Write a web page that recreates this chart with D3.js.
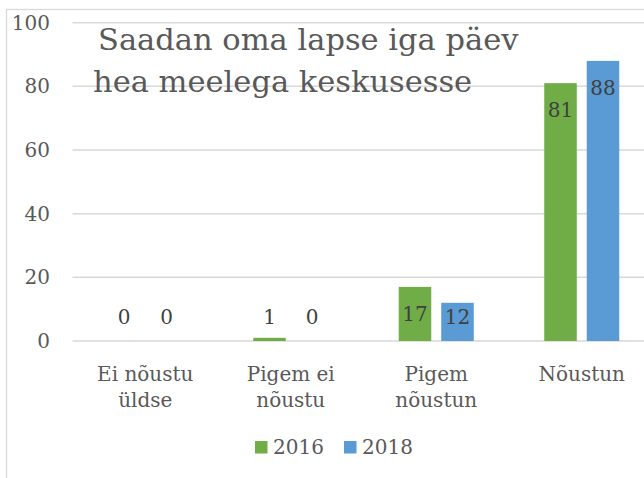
<!DOCTYPE html>
<meta charset="utf-8">
<script src="https://d3js.org/d3.v7.min.js"></script>
<style>
    body { margin: 0; background: #fff; }
    svg { display: block; }
</style>
<div id="chart"></div>
<script>
    // Data
    var categories = [["Ei nõustu", "üldse"], ["Pigem ei", "nõustu"], ["Pigem", "nõustun"], ["Nõustun"]];
    var seriesNames = ["2016", "2018"];
    var values2016 = [0, 1, 17, 81];
    var values2018 = [0, 0, 12, 88];
    var yTicks = [0, 20, 40, 60, 80, 100];
    var titleLines = ["Saadan oma lapse iga päev", "hea meelega keskusesse"];

    var colors = { "2016": "#70AD47", "2018": "#5B9BD5" };
    var font = "'DejaVu Serif', serif";

    var W = 644, H = 478;
    var svg = d3.select("#chart").append("svg")
        .attr("width", W)
        .attr("height", H);

    // chart frame (runs off the right edge like the screenshot)
    svg.append("rect")
        .attr("x", 6.5).attr("y", 9.5)
        .attr("width", 800).attr("height", 600)
        .attr("fill", "none")
        .attr("stroke", "#D9D9D9")
        .attr("stroke-width", 1.3);

    var catKeys = categories.map(function (c) { return c.join(" "); });

    var x0 = d3.scaleBand()
        .domain(catKeys)
        .range([72.5, 654.5])
        .paddingInner(0)
        .paddingOuter(0);

    var x1 = d3.scaleBand()
        .domain(seriesNames)
        .range([35.25, 110.25])
        .paddingInner(0.235)
        .paddingOuter(0);

    var y = d3.scaleLinear()
        .domain([0, 100])
        .range([341, 22.7]);

    // gridlines
    svg.append("g")
        .selectAll("line")
        .data(yTicks)
        .join("line")
        .attr("x1", 72.5).attr("x2", W)
        .attr("y1", function (d) { return y(d); })
        .attr("y2", function (d) { return y(d); })
        .attr("stroke", "#D9D9D9")
        .attr("stroke-width", 1.5);

    // y axis labels
    var yAxis = svg.append("g")
        .attr("transform", "translate(58,0)")
        .call(d3.axisLeft(y).tickValues(yTicks).tickSize(0).tickPadding(8));
    yAxis.select(".domain").remove();
    yAxis.selectAll("text")
        .attr("font-family", font)
        .attr("font-size", 20)
        .attr("fill", "#595959");

    // bars
    var rows = catKeys.map(function (k, i) {
        return { key: k, vals: [{ s: "2016", v: values2016[i] }, { s: "2018", v: values2018[i] }] };
    });

    var groups = svg.append("g")
        .selectAll("g")
        .data(rows)
        .join("g")
        .attr("transform", function (d) { return "translate(" + x0(d.key) + ",0)"; });

    groups.selectAll("rect")
        .data(function (d) { return d.vals; })
        .join("rect")
        .attr("x", function (d) { return x1(d.s); })
        .attr("y", function (d) { return y(d.v); })
        .attr("width", x1.bandwidth())
        .attr("height", function (d) { return y(0) - y(d.v); })
        .attr("fill", function (d) { return colors[d.s]; });

    // data labels: inside end, but no lower than just above the baseline
    groups.selectAll("text")
        .data(function (d) { return d.vals; })
        .join("text")
        .attr("x", function (d) { return x1(d.s) + x1.bandwidth() / 2; })
        .attr("y", function (d) { return Math.min(y(d.v) + 27, y(0) - 24); })
        .attr("dy", "0.35em")
        .attr("text-anchor", "middle")
        .attr("font-family", font)
        .attr("font-size", 20)
        .attr("fill", "#404040")
        .text(function (d) { return d.v; });

    // category labels
    var catText = svg.append("g")
        .selectAll("text")
        .data(categories)
        .join("text")
        .attr("text-anchor", "middle")
        .attr("font-family", font)
        .attr("font-size", 20)
        .attr("fill", "#595959");
    catText.selectAll("tspan")
        .data(function (d, i) { return d.map(function (t) { return { t: t, k: catKeys[i] }; }); })
        .join("tspan")
        .attr("x", function (d) { return x0(d.k) + x0.bandwidth() / 2; })
        .attr("y", function (d, i) { return 381 + i * 26; })
        .text(function (d) { return d.t; });

    // title (overlaps plot, as in the original)
    var titleX = [98, 93];
    svg.append("text")
        .attr("font-family", font)
        .attr("font-size", 30.5)
        .attr("fill", "#595959")
        .selectAll("tspan")
        .data(titleLines)
        .join("tspan")
        .attr("x", function (d, i) { return titleX[i]; })
        .attr("y", function (d, i) { return 50 + i * 42; })
        .text(function (d) { return d; });

    // legend
    var legendX = [255, 344];
    var legend = svg.append("g")
        .selectAll("g")
        .data(seriesNames)
        .join("g")
        .attr("transform", function (d, i) { return "translate(" + legendX[i] + ",441)"; });
    legend.append("rect")
        .attr("width", 12.5).attr("height", 12.5)
        .attr("fill", function (d) { return colors[d]; });
    legend.append("text")
        .attr("x", 18).attr("y", 13.3)
        .attr("font-family", font)
        .attr("font-size", 20)
        .attr("fill", "#595959")
        .text(function (d) { return d; });
</script>
